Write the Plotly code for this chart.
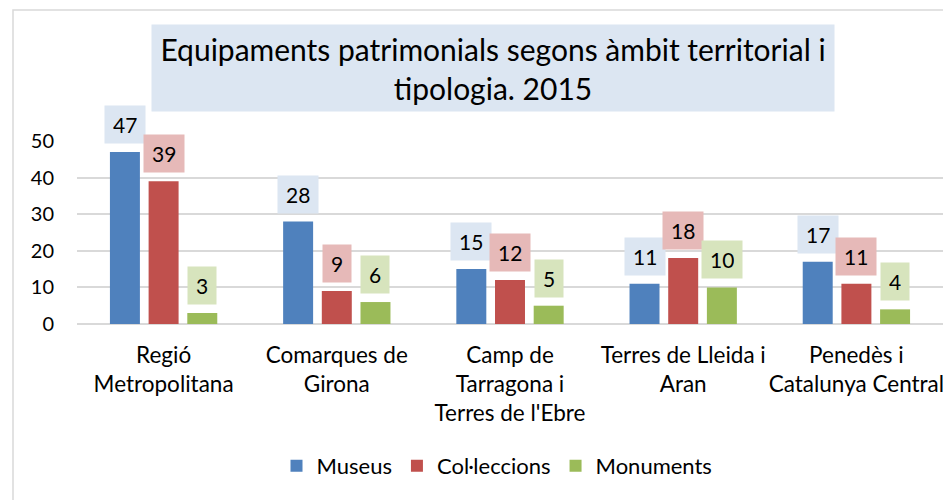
import plotly.graph_objects as go

categories = ["Regió<br>Metropolitana", "Comarques de<br>Girona", "Camp de<br>Tarragona i<br>Terres de l'Ebre",
              "Terres de Lleida i<br>Aran", "Penedès i<br>Catalunya Central"]
series_names = ["Museus", "Col·leccions", "Monuments"]
museus = [47, 28, 15, 11, 17]
colleccions = [39, 9, 12, 18, 11]
monuments = [3, 6, 5, 10, 4]
y_ticks = [0, 10, 20, 30, 40, 50]
title_text = "Equipaments patrimonials segons àmbit territorial i<br>tipologia. 2015"

series_values = [museus, colleccions, monuments]
bar_colors = ["#4F81BD", "#C0504D", "#9BBB59"]
label_bg = ["#DCE6F2", "#E6B9B8", "#D7E4BD"]

OFF = 8  # page body margin
W, H = 951 - OFF, 500 - OFF
# plot area in page pixels: x 77..943, y 141..324
PL, PR, PT, PB = 77, 943, 141, 324
ML = PL - OFF
MR = W - (PR - OFF)
MT = PT - OFF
MB = H - (PB - OFF)
FONT = "Lato"
bargap = 0.33
bargroupgap = 0.225

fig = go.Figure()
for name, vals, col in zip(series_names, series_values, bar_colors):
    fig.add_trace(go.Bar(name=name, x=categories, y=vals, marker=dict(color=col, line=dict(width=0))))

plot_w = PR - PL
ph = PB - PT
cat_w = plot_w / len(categories)
pitch = cat_w * (1 - bargap) / len(series_names)

annotations = []
for si, (vals, bg) in enumerate(zip(series_values, label_bg)):
    for ci, v in enumerate(vals):
        annotations.append(dict(
            x=categories[ci], y=v, xref="x", yref="y", text=str(v), showarrow=False,
            xshift=(si - 1) * pitch, yshift=8, yanchor="bottom", xanchor="center",
            bgcolor=bg, borderpad=8, height=21,
            font=dict(family=FONT, size=21, color="#000000")))

def px_to_paper_x(px):
    return (px - PL) / plot_w
def px_to_paper_y(py):
    return (PB - py) / ph

annotations.append(dict(
    x=px_to_paper_x(493), y=px_to_paper_y(68), xref="paper", yref="paper",
    text=title_text, showarrow=False, xanchor="center", yanchor="middle",
    width=682, height=86, borderpad=0, bgcolor="#DCE6F2", align="center", valign="middle",
    font=dict(family=FONT, size=30, color="#000000")))

shapes = [dict(type="rect", xref="paper", yref="paper",
               x0=px_to_paper_x(13), x1=px_to_paper_x(980),
               y0=px_to_paper_y(530), y1=px_to_paper_y(10),
               line=dict(color="#D9D9D9", width=1.5), fillcolor="rgba(0,0,0,0)", layer="below")]

fig.update_layout(
    width=W, height=H,
    margin=dict(l=ML, r=MR, t=MT, b=MB, autoexpand=False),
    paper_bgcolor="white", plot_bgcolor="white",
    barmode="group", bargap=bargap, bargroupgap=bargroupgap,
    font=dict(family=FONT, size=21, color="#000000"),
    showlegend=True,
    legend=dict(orientation="h", x=px_to_paper_x(497), y=px_to_paper_y(466),
                xanchor="center", yanchor="middle", font=dict(size=22, family=FONT),
                itemsizing="constant", bgcolor="rgba(0,0,0,0)"),
    annotations=annotations, shapes=shapes,
)
fig.update_yaxes(range=[0, 50], tickvals=y_ticks, ticktext=[str(t) for t in y_ticks],
                 showgrid=True, gridcolor="#D9D9D9", gridwidth=1.5,
                 zeroline=True, zerolinecolor="#D9D9D9", zerolinewidth=1.5,
                 showline=False, ticks="", ticklabelstandoff=22,
                 tickfont=dict(family=FONT, size=20, color="#000000"))
fig.update_xaxes(showgrid=False, showline=False, ticks="", ticklabelstandoff=15,
                 tickfont=dict(family=FONT, size=22.5, color="#000000"))

fig.write_html("out.html")
